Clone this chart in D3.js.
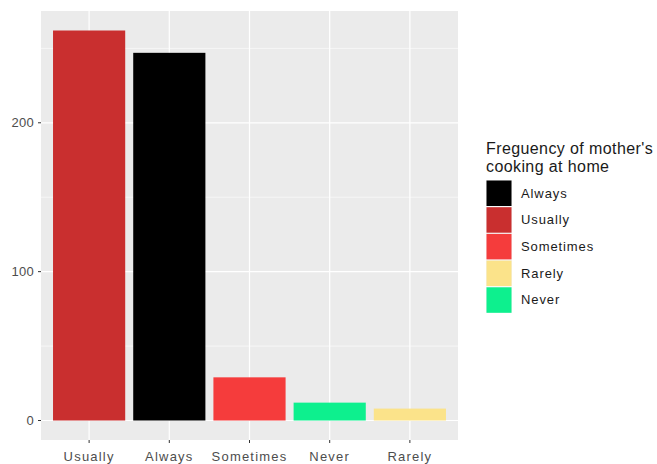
<!DOCTYPE html>
<html><head><meta charset="utf-8">
<script src="https://cdn.jsdelivr.net/npm/d3@7"></script>
<style>body{margin:0;background:#fff;} text{font-family:"Liberation Sans",Arial,sans-serif;}</style>
</head><body><svg id="c" width="657" height="464"></svg>
<script>
const categories = ["Usually","Always","Sometimes","Never","Rarely"];
const values = [262, 247, 29, 12, 8];
const legendOrder = ["Always","Usually","Sometimes","Rarely","Never"];
const colorMap = {Always:"#000000",Usually:"#c92f2f",Sometimes:"#f53c3c",Rarely:"#fbe38a",Never:"#0df08e"};
const yTicks = [0,100,200];
const yMinor = [50,150,250];
const legendTitle = ["Freguency of mother's","cooking at home"];

const svg = d3.select("#c");
const panel = {l:41, t:11, r:458, b:440};
const maxV = d3.max(values);
const y = d3.scaleLinear().domain([-maxV*0.05, maxV*1.05]).range([panel.b, panel.t]);
const x = d3.scalePoint().domain(categories).range([panel.l, panel.r]).padding(0.6);
const cx = d => x(d);
const bw = x.step()*0.9;

svg.append("rect").attr("x",panel.l).attr("y",panel.t).attr("width",panel.r-panel.l).attr("height",panel.b-panel.t).attr("fill","#ebebeb");
const g = svg.append("g");
yMinor.forEach(v=>g.append("line").attr("x1",panel.l).attr("x2",panel.r).attr("y1",y(v)).attr("y2",y(v)).attr("stroke","#fff").attr("stroke-width",0.6));
yTicks.forEach(v=>g.append("line").attr("x1",panel.l).attr("x2",panel.r).attr("y1",y(v)).attr("y2",y(v)).attr("stroke","#fff").attr("stroke-width",1.2));
categories.forEach(c=>g.append("line").attr("x1",cx(c)).attr("x2",cx(c)).attr("y1",panel.t).attr("y2",panel.b).attr("stroke","#fff").attr("stroke-width",1.2));

g.selectAll("rect.bar").data(categories).enter().append("rect").attr("class","bar")
  .attr("x",d=>cx(d)-bw/2).attr("width",bw)
  .attr("y",(d,i)=>y(values[i])).attr("height",(d,i)=>y(0)-y(values[i]))
  .attr("fill",d=>colorMap[d]);

// y axis
yTicks.forEach(v=>{
  svg.append("line").attr("x1",panel.l-3).attr("x2",panel.l).attr("y1",y(v)).attr("y2",y(v)).attr("stroke","#333").attr("stroke-width",1);
  svg.append("text").attr("x",panel.l-7).attr("y",y(v)).attr("dy","0.35em").attr("text-anchor","end").attr("font-size",13).attr("letter-spacing",0.3).attr("fill","#4d4d4d").text(v);
});
// x axis
categories.forEach(c=>{
  svg.append("line").attr("x1",cx(c)).attr("x2",cx(c)).attr("y1",panel.b).attr("y2",panel.b+3).attr("stroke","#333").attr("stroke-width",1);
  svg.append("text").attr("x",cx(c)).attr("y",panel.b+16).attr("dy","0.35em").attr("text-anchor","middle").attr("font-size",13).attr("letter-spacing",1.2).attr("fill","#4d4d4d").text(c);
});

// legend
const lg = svg.append("g");
legendTitle.forEach((t,i)=>lg.append("text").attr("x",486).attr("y",154+i*18).attr("font-size",16).attr("letter-spacing",0.4).attr("fill","#1a1a1a").text(t));
legendOrder.forEach((k,i)=>{
  const yy = 180 + i*26.7;
  lg.append("rect").attr("x",486).attr("y",yy).attr("width",26).attr("height",26).attr("fill","#f2f2f2");
  lg.append("rect").attr("x",486.5).attr("y",yy+0.5).attr("width",25).attr("height",25.5).attr("fill",colorMap[k]);
  lg.append("text").attr("x",521).attr("y",yy+13).attr("dy","0.35em").attr("font-size",13).attr("letter-spacing",0.9).attr("fill","#1a1a1a").text(k);
});
</script></body></html>
